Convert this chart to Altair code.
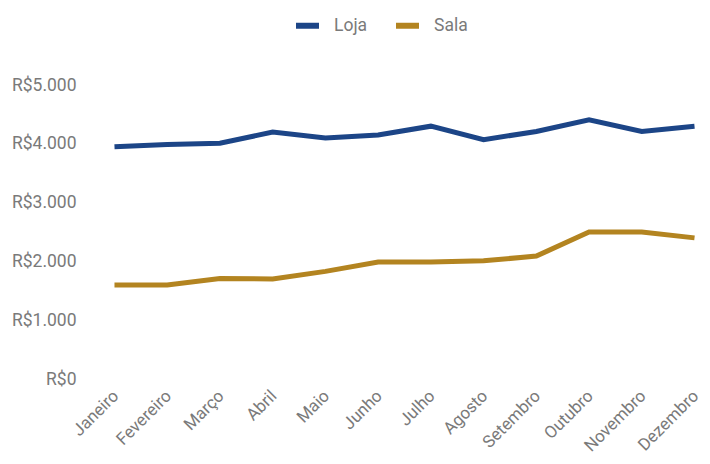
import altair as alt
import pandas as pd

meses = ["Janeiro", "Fevereiro", "Março", "Abril", "Maio", "Junho",
         "Julho", "Agosto", "Setembro", "Outubro", "Novembro", "Dezembro"]
loja = [3950, 3990, 4010, 4200, 4100, 4150, 4300, 4070, 4210, 4410, 4210, 4300]
sala = [1600, 1600, 1710, 1700, 1830, 1990, 1990, 2010, 2090, 2500, 2500, 2400]
series = ["Loja", "Sala"]
cores = ["#1c4587", "#b38420"]

rows = []
for i, m in enumerate(meses):
    rows.append({"mes": m, "serie": "Loja", "valor": loja[i], "ordem": i})
    rows.append({"mes": m, "serie": "Sala", "valor": sala[i], "ordem": i})
df = pd.DataFrame(rows)

gray = "#7a7a7a"

chart = alt.Chart(df).mark_line(strokeWidth=5, strokeJoin="miter").encode(
    x=alt.X("mes:N", sort=meses, title=None,
            scale=alt.Scale(type="point", padding=0.142),
            axis=alt.Axis(labelAngle=-45, labelAlign="right", labelBaseline="middle",
                          labelPadding=14, labelOffset=1, domain=False, ticks=False, grid=False,
                          labelFont="Roboto", labelFontSize=17, labelColor=gray)),
    y=alt.Y("valor:Q", title=None,
            scale=alt.Scale(domain=[0, 5000], nice=False),
            axis=alt.Axis(values=[0, 1000, 2000, 3000, 4000, 5000],
                          labelExpr="'R$' + replace(format(datum.value, ',.0f'), ',', '.')",
                          domain=False, ticks=False, grid=False, labelPadding=31,
                          labelFont="Roboto", labelFontSize=17.5, labelColor=gray)),
    color=alt.Color("serie:N", sort=series,
                    scale=alt.Scale(domain=series, range=cores),
                    legend=alt.Legend(title=None, orient="none", direction="horizontal",
                                      legendX=186, legendY=-74, padding=0,
                                      symbolType="stroke", symbolStrokeWidth=6, symbolSize=529,
                                      labelFont="Roboto", labelFontSize=17.5, labelColor=gray,
                                      columnPadding=16, labelOffset=12)),
    order="ordem:Q",
).properties(
    width=595, height=294,
    autosize=alt.AutoSizeParams(type="none"),
    padding={"left": 99, "top": 77, "right": 0, "bottom": 77},
).configure_view(stroke=None)

chart.save("out.html", embed_options={"renderer": "svg", "actions": False})
